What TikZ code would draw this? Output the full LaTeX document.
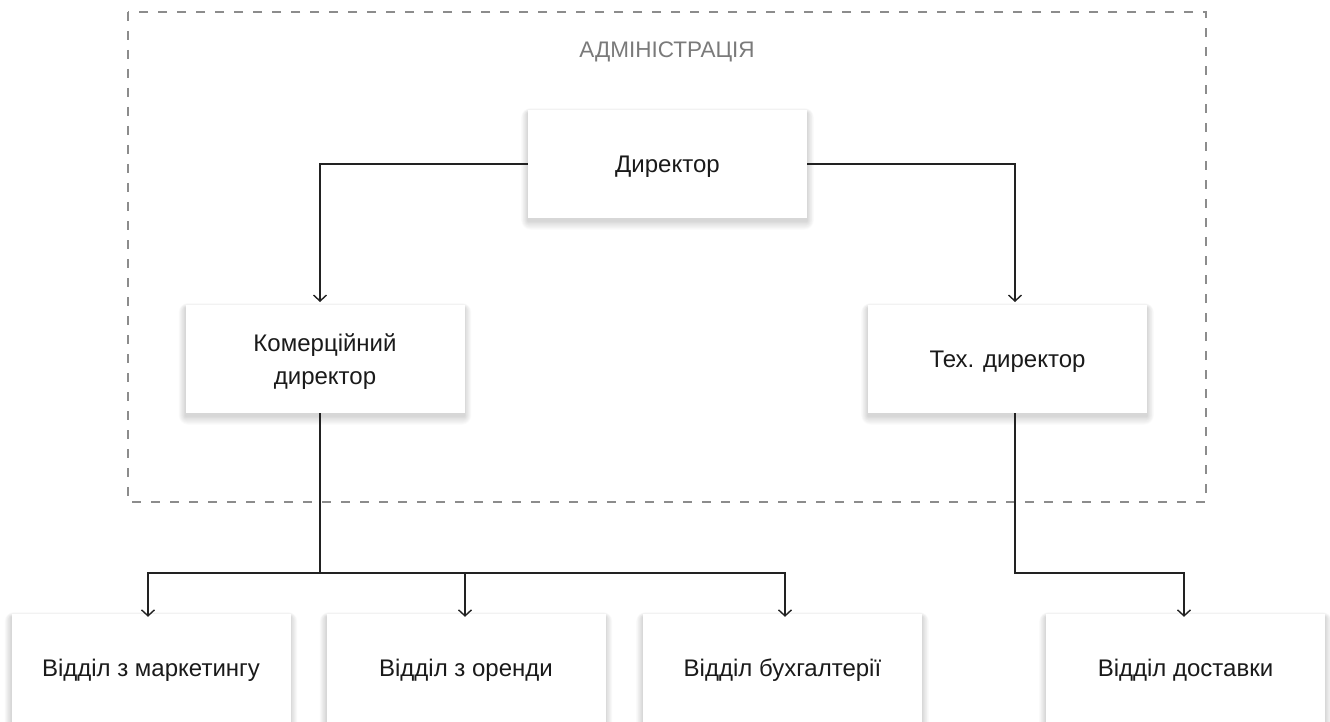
\documentclass[tikz,border=0pt]{standalone}
\usepackage{fontspec}
\setmainfont{Liberation Sans}
\usetikzlibrary{arrows.meta,backgrounds}
\definecolor{linec}{HTML}{222222}
\definecolor{txtc}{HTML}{1A1A1A}
\definecolor{dashc}{HTML}{8C8C8C}
\definecolor{graytxt}{HTML}{7A7A7A}
\tikzset{
  orgbox/.style={draw=none, fill=white, minimum width=279pt, minimum height=108pt,
    inner sep=0pt, align=center, text=txtc, text depth=0pt, font=\fontsize{24}{33}\selectfont},
  conn/.style={draw=linec, line width=1.4pt, -{Straight Barb[length=6pt,width=13pt,line width=1.4pt]}},
  plainconn/.style={draw=linec, line width=1.4pt},
  adminframe/.style={draw=dashc, line width=1.3pt, dash pattern=on 9pt off 10pt},
  shadowlayer/.style={fill=black, fill opacity=0.014, draw=none}
}
\begin{document}
\begin{tikzpicture}[x=1pt,y=-1pt]
\useasboundingbox (0,0) rectangle (1330,722);
\clip (0,0) rectangle (1330,722);
\draw[adminframe] (128,12) rectangle (1206,502);
\node[text=graytxt, font=\fontsize{22.5}{26}\selectfont] (admin) at (667,52) {АДМІНІСТРАЦІЯ};

\node[orgbox] (dir) at (667.5,164) {Директор};
\node[orgbox] (kom) at (325,359) {Комерційний\\директор};
\node[orgbox] (tech) at (1007.5,359) {Тех. директор};

\node[orgbox] (b1) at (151,668) {Відділ з маркетингу};
\node[orgbox] (b2) at (466,668) {Відділ з оренди};
\node[orgbox] (b3) at (782.5,668) {Відділ бухгалтерії};
\node[orgbox] (b4) at (1185.5,668) {Відділ доставки};

\begin{pgfonlayer}{background}
\fill[white] (0,0) rectangle (1330,722);
\foreach \n in {dir,kom,tech,b1,b2,b3,b4}{
  \foreach \r in {0.5,1.5,...,9.5}{
    \fill[shadowlayer, rounded corners=\r pt]
      ([xshift=-\r pt*0.7, yshift=-3pt-\r pt*0.9]\n.south west)
      rectangle ([xshift=\r pt*0.7, yshift=-3pt+\r pt*0.5]\n.north east);
  }
}
\end{pgfonlayer}

\coordinate (komtop) at (320,302);
\coordinate (techtop) at (1015,302);
\coordinate (komout) at (320,413);
\coordinate (techout) at (1015,413);
\coordinate (komj) at (320,573);
\coordinate (techj) at (1015,573);

\draw[conn] (dir.west) -| (komtop);
\draw[conn] (dir.east) -| (techtop);

\draw[plainconn] (komout) -- (komj);
\draw[conn] (komj) -| ([xshift=-3pt,yshift=-3pt]b1.north);
\draw[conn] (komj) -| ([xshift=-1pt,yshift=-3pt]b2.north);
\draw[conn] (komj) -| ([xshift=2.5pt,yshift=-3pt]b3.north);

\draw[conn] (techout) -- (techj) -| ([xshift=-1.5pt,yshift=-3pt]b4.north);
\end{tikzpicture}
\end{document}
